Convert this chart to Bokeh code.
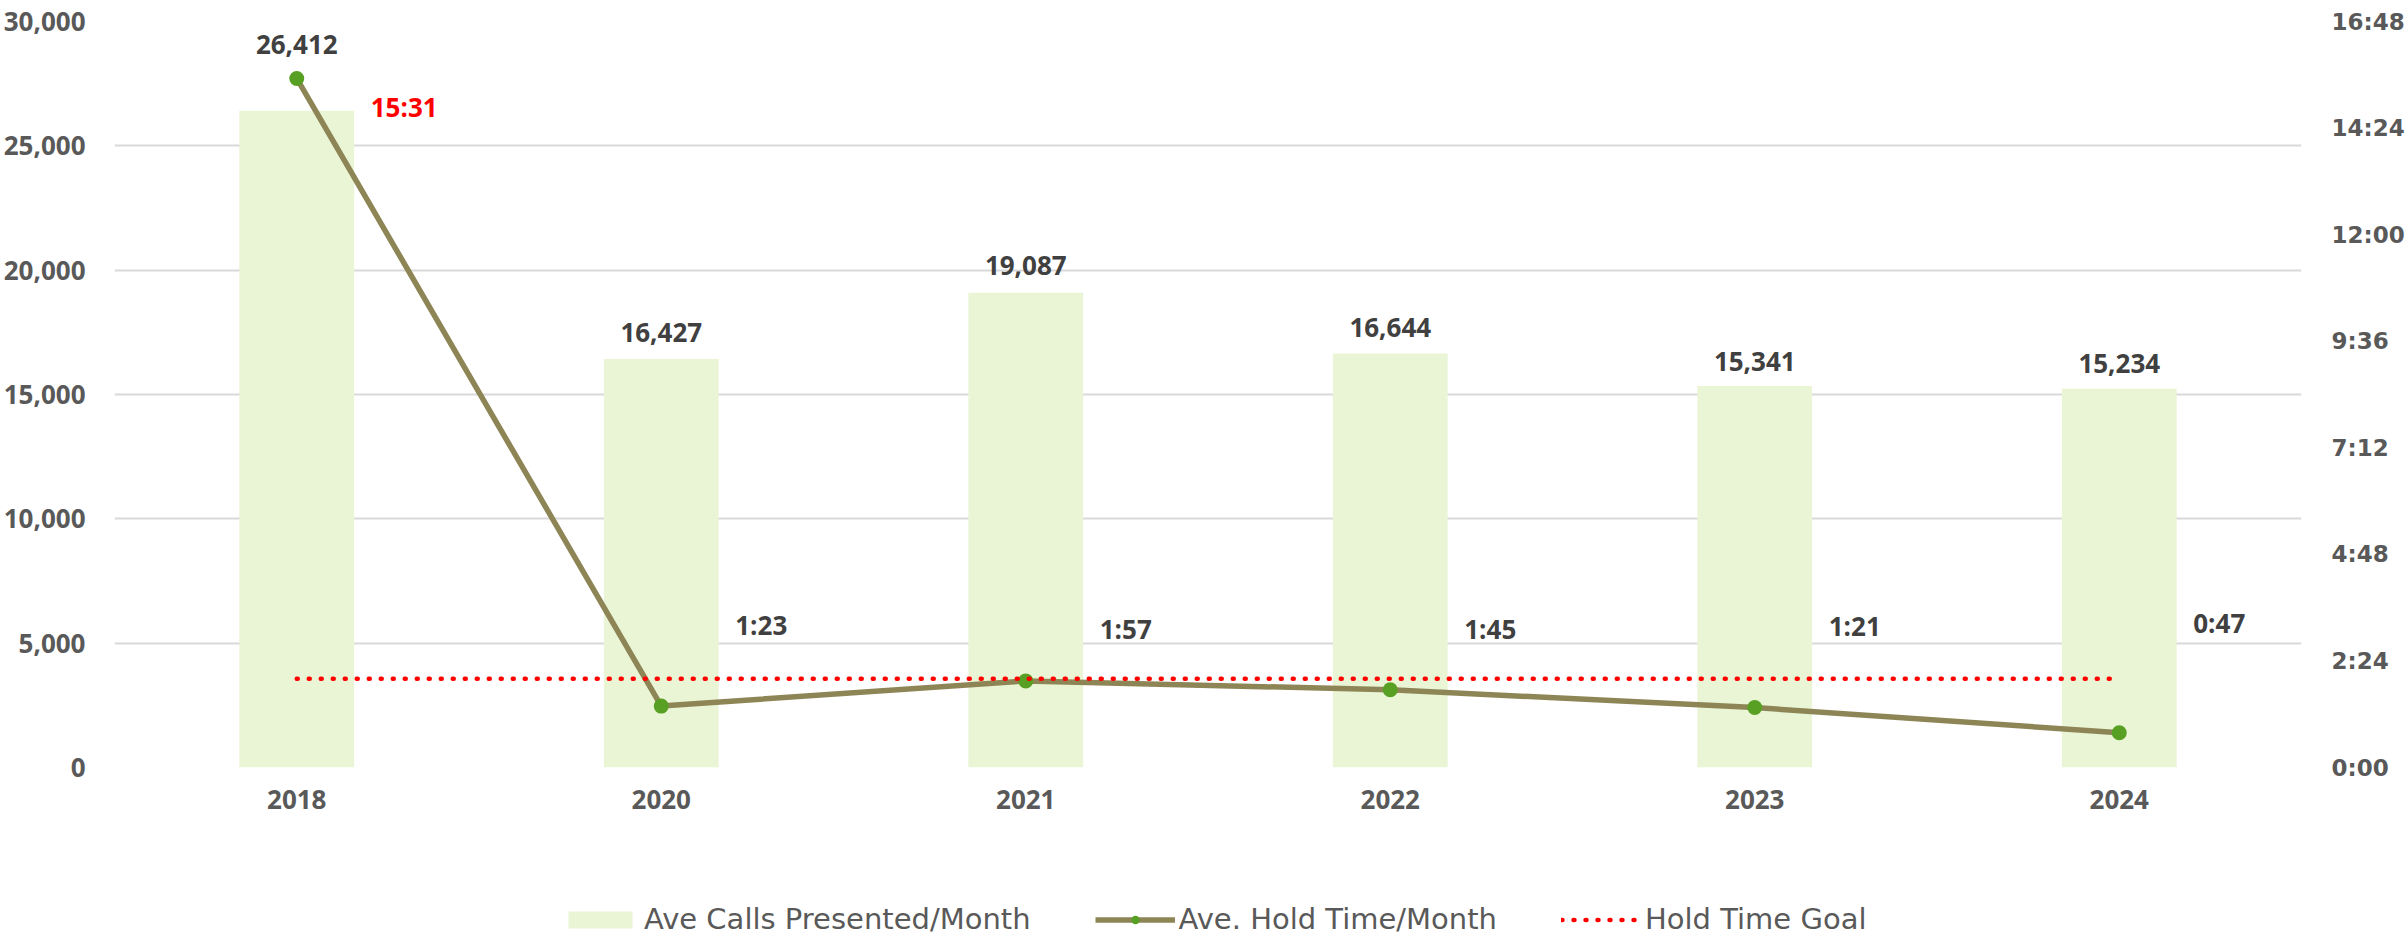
from bokeh.plotting import figure
from bokeh.layouts import column
from bokeh.models import (ColumnDataSource, Range1d, LinearAxis, FixedTicker,
                          NumeralTickFormatter, CustomJSTickFormatter, LabelSet,
                          Legend, LegendItem, FactorRange)
from bokeh.core.properties import value
from bokeh.embed import file_html
from bokeh.resources import INLINE

# ---------------- data ----------------
years = ["2018", "2020", "2021", "2022", "2023", "2024"]
calls = [26412, 16427, 19087, 16644, 15341, 15234]
hold_time = ["15:31", "1:23", "1:57", "1:45", "1:21", "0:47"]
goal_time = ["2:00", "2:00", "2:00", "2:00", "2:00", "2:00"]
left_ticks = [0, 5000, 10000, 15000, 20000, 25000, 30000]
right_ticks = ["0:00", "2:24", "4:48", "7:12", "9:36", "12:00", "14:24", "16:48"]
series_names = ["Ave Calls Presented/Month", "Ave. Hold Time/Month", "Hold Time Goal"]

# ---------------- label layout (pixels) ----------------
bar_label_up = [66, 27, 27, 26, 25, 25]
hold_label_up = [-29, 81, 52, 61, 82, 110]
hold_label_colors = ["#FF0000", "#404040", "#404040", "#404040", "#404040", "#404040"]

BAR_C, LINE_C, MARK_C, GOAL_C = "#E9F5D4", "#8E8556", "#58A023", "#FF0000"


def to_sec(t):
    m, s = t.split(":")
    return int(m) * 60 + int(s)


hold_s = [to_sec(t) for t in hold_time]
goal_s = [to_sec(t) for t in goal_time]
right_tick_vals = [to_sec(t) for t in right_ticks]

src = ColumnDataSource(dict(
    year=years, calls=calls, calls_txt=[f"{c:,}" for c in calls],
    hold=hold_s, hold_txt=hold_time, goal=goal_s,
    bar_up=bar_label_up, hold_up=hold_label_up, hold_col=hold_label_colors,
))

W = 2407
p = figure(x_range=FactorRange(*years), y_range=Range1d(left_ticks[0], left_ticks[-1]),
           width=W, height=880, output_backend="svg", toolbar_location=None,
           min_border_left=113, min_border_right=103, min_border_top=21,
           min_border_bottom=113)
p.extra_y_ranges = {"hold": Range1d(right_tick_vals[0], right_tick_vals[-1])}
p.outline_line_color = None

left_ticker = FixedTicker(ticks=left_ticks)
p.yaxis[0].ticker = left_ticker
p.yaxis[0].formatter = NumeralTickFormatter(format="0,0")
p.ygrid.ticker = left_ticker
p.ygrid.grid_line_color = "#D9D9D9"
p.ygrid.grid_line_width = 2
p.xgrid.visible = False

raxis = LinearAxis(y_range_name="hold", ticker=FixedTicker(ticks=right_tick_vals),
                   formatter=CustomJSTickFormatter(code="""
    const m = Math.floor(tick / 60);
    const s = Math.round(tick - m * 60);
    return m + ":" + (s < 10 ? "0" : "") + s;
"""))
p.add_layout(raxis, "right")

for ax in [p.xaxis[0], p.yaxis[0], raxis]:
    ax.axis_line_color = None
    ax.major_tick_line_color = None
    ax.minor_tick_line_color = None
    ax.major_label_text_font = "Open Sans"
    ax.major_label_text_font_size = "26px"
    ax.major_label_text_font_style = "bold"
    ax.major_label_text_color = "#595959"
raxis.major_label_text_font = "DejaVu Sans"
raxis.major_label_text_font_size = "23px"
p.yaxis[0].major_label_standoff = 23
raxis.major_label_standoff = 24
p.xaxis[0].major_label_standoff = 16

p.vbar(x="year", top="calls", width=0.315, source=src,
       fill_color=BAR_C, line_color=None)
p.line(x="year", y="hold", source=src, y_range_name="hold",
       line_color=LINE_C, line_width=5.5)
p.scatter(x="year", y="hold", source=src, y_range_name="hold",
          size=15, fill_color=MARK_C, line_color=None)
p.line(x="year", y="goal", source=src, y_range_name="hold",
       line_color=GOAL_C, line_width=4.5, line_dash="1 11", line_cap="round")

p.add_layout(LabelSet(x="year", y="calls", text="calls_txt", source=src,
                      y_offset="bar_up", text_align="center", text_baseline="middle",
                      text_font=value("Open Sans"), text_font_size="26px",
                      text_font_style="bold", text_color="#404040"))
p.add_layout(LabelSet(x="year", y="hold", text="hold_txt", source=src,
                      y_range_name="hold", x_offset=74, y_offset="hold_up",
                      text_align="left", text_baseline="middle",
                      text_font=value("Open Sans"), text_font_size="26px",
                      text_font_style="bold", text_color="hold_col"))

# ---------------- legend strip ----------------
p2 = figure(width=W, height=56, x_range=Range1d(0, 1), y_range=Range1d(0, 1),
            output_backend="svg", toolbar_location=None,
            x_axis_type=None, y_axis_type=None,
            min_border_left=0, min_border_right=0, min_border_top=0,
            min_border_bottom=0)
p2.outline_line_color = None
p2.xgrid.visible = False
p2.ygrid.visible = False
lb = p2.vbar(x=[-5], top=[-5], width=0.3, fill_color=BAR_C, line_color=None)
ll = p2.line(x=[-5, -4], y=[-5, -5], line_color=LINE_C, line_width=5.5)
lm = p2.scatter(x=[-5], y=[-5], size=14, fill_color=MARK_C, line_color=None)
lg = p2.line(x=[-5, -4], y=[-5, -5], line_color=GOAL_C, line_width=4.5,
             line_dash="1 11", line_cap="round")

legend = Legend(items=[
    LegendItem(label=series_names[0], renderers=[lb]),
    LegendItem(label=series_names[1], renderers=[ll, lm]),
    LegendItem(label=series_names[2], renderers=[lg]),
], location=(446, 0), orientation="horizontal",
    label_text_font="DejaVu Sans", label_text_font_size="29px",
    label_text_color="#595959", glyph_width=80, glyph_height=21,
    label_standoff=4, spacing=64, padding=0, margin=0,
    border_line_color=None, background_fill_alpha=0)
p2.add_layout(legend)

open("out.html", "w").write(file_html(column(p, p2), INLINE))
